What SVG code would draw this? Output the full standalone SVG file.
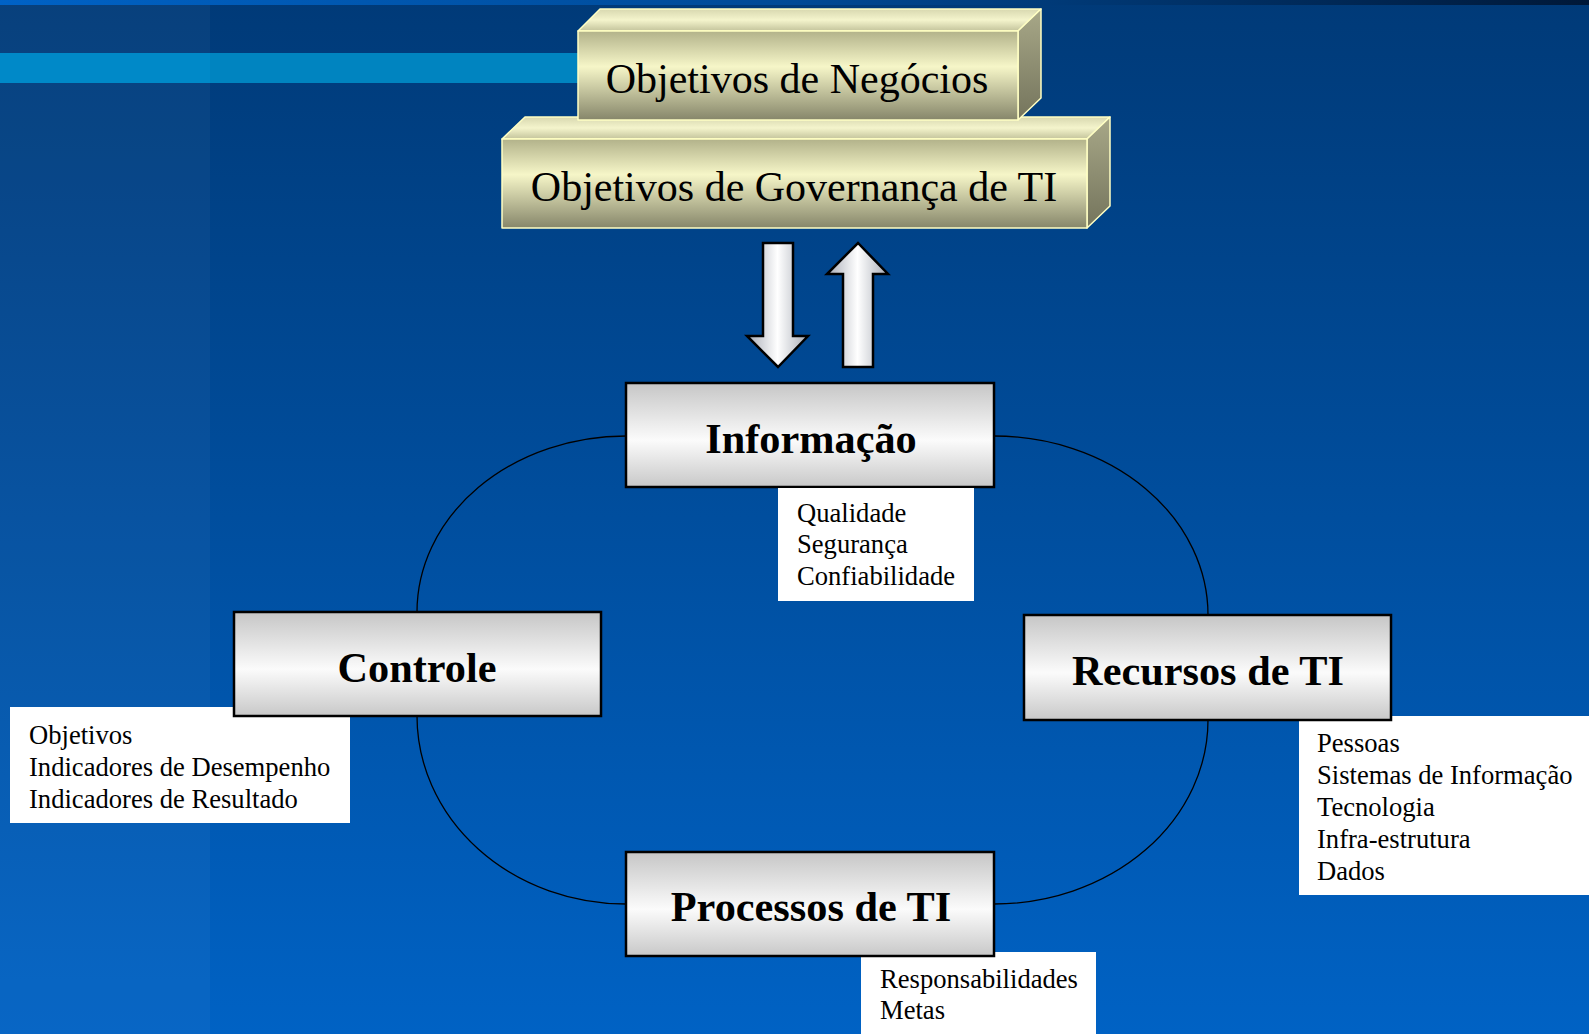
<svg xmlns="http://www.w3.org/2000/svg" width="1589" height="1034" viewBox="0 0 1589 1034">
<defs>
<linearGradient id="bg" x1="0" y1="0" x2="0" y2="1">
<stop offset="0" stop-color="#003a78"/>
<stop offset="0.5" stop-color="#004e9e"/>
<stop offset="1" stop-color="#0062c4"/>
</linearGradient>
<linearGradient id="topstrip" x1="0" y1="0" x2="1" y2="0">
<stop offset="0" stop-color="#0062c6"/>
<stop offset="0.5" stop-color="#004a96"/>
<stop offset="1" stop-color="#001838"/>
</linearGradient>
<linearGradient id="gray" x1="0" y1="0" x2="0" y2="1">
<stop offset="0" stop-color="#c6c6c6"/>
<stop offset="0.55" stop-color="#fbfbfb"/>
<stop offset="1" stop-color="#c8c8c8"/>
</linearGradient>
<linearGradient id="front" x1="0" y1="0" x2="0" y2="1">
<stop offset="0" stop-color="#b2b28a"/>
<stop offset="0.4" stop-color="#f6f6c8"/>
<stop offset="1" stop-color="#86866a"/>
</linearGradient>
<linearGradient id="topf" x1="0" y1="0" x2="0" y2="1">
<stop offset="0" stop-color="#d8d8b0"/>
<stop offset="0.5" stop-color="#f4f4cc"/>
<stop offset="1" stop-color="#c4c49c"/>
</linearGradient>
<linearGradient id="side" x1="0" y1="0" x2="0" y2="1">
<stop offset="0" stop-color="#a8a888"/>
<stop offset="1" stop-color="#74745c"/>
</linearGradient>
<linearGradient id="arrowg" x1="0" y1="0" x2="1" y2="0">
<stop offset="0" stop-color="#a8acb6"/>
<stop offset="0.5" stop-color="#ffffff"/>
<stop offset="1" stop-color="#a8acb6"/>
</linearGradient>
</defs>
<style>
.box3d{stroke:#ffffc4;stroke-width:1.5;stroke-linejoin:round}
.gbox{fill:url(#gray);stroke:#000;stroke-width:2.5}
.title{font-family:"Liberation Serif","Times New Roman",serif;font-size:42px;fill:#000;text-anchor:middle}
.label{font-family:"Liberation Serif","Times New Roman",serif;font-size:42.3px;font-weight:bold;fill:#000;text-anchor:middle}
.note{fill:#fff}
.notetext{font-family:"Liberation Serif","Times New Roman",serif;font-size:26.6px;fill:#000}
.conn{fill:none;stroke:#000;stroke-width:1.3}
.arrow{fill:url(#arrowg);stroke:#000;stroke-width:2.5;stroke-linejoin:miter}
</style>
<!-- background -->
<rect x="0" y="0" width="1589" height="1034" fill="url(#bg)"/>
<rect x="0" y="0" width="210" height="1034" fill="#ffffff" opacity="0.03"/>
<rect x="0" y="0" width="1589" height="5" fill="url(#topstrip)"/>
<rect x="0" y="53" width="210" height="30" fill="#0089c8"/>
<rect x="210" y="53" width="370" height="30" fill="#0084c0"/>

<!-- connectors -->
<g id="connectors">
<path class="conn" d="M626,436 A209,176 0 0 0 417,612"/>
<path class="conn" d="M417,716 A209,188 0 0 0 626,904"/>
<path class="conn" d="M994,904 A214,184 0 0 0 1208,720"/>
<path class="conn" d="M1208,615 A214,179 0 0 0 994,436"/>
<path class="arrow" d="M763,243 L793,243 L793,336 L808,336 L778,367 L747,336 L763,336 Z"/>
<path class="arrow" d="M843,367 L873,367 L873,274 L888,274 L858,243 L827,274 L843,274 Z"/>
</g>

<!-- Objetivos de Governança de TI -->
<g id="node-governanca">
<polygon class="box3d" fill="url(#topf)" points="502,139 525,117 1110,117 1087,139"/>
<polygon class="box3d" fill="url(#side)" points="1087,139 1110,117 1110,206 1087,228"/>
<rect class="box3d" fill="url(#front)" x="502" y="139" width="585" height="89"/>
<text class="title" x="794" y="201">Objetivos de Governança de TI</text>
</g>

<!-- Objetivos de Negócios -->
<g id="node-negocios">
<polygon class="box3d" fill="url(#topf)" points="578,31 600,9 1041,9 1018,31"/>
<polygon class="box3d" fill="url(#side)" points="1018,31 1041,9 1041,98 1018,120"/>
<rect class="box3d" fill="url(#front)" x="578" y="31" width="440" height="89"/>
<text class="title" x="797" y="93">Objetivos de Negócios</text>
</g>

<!-- Informação -->
<g id="node-informacao">
<rect class="gbox" x="626" y="383" width="368" height="104"/>
<text class="label" x="811" y="453">Informação</text>
</g>
<g id="note-informacao">
<rect class="note" x="778" y="488" width="196" height="113"/>
<text class="notetext" x="797" y="522">Qualidade</text>
<text class="notetext" x="797" y="553">Segurança</text>
<text class="notetext" x="797" y="585">Confiabilidade</text>
</g>

<!-- Controle -->
<g id="note-controle">
<rect class="note" x="10" y="707" width="340" height="116"/>
<text class="notetext" x="29" y="744">Objetivos</text>
<text class="notetext" x="29" y="776">Indicadores de Desempenho</text>
<text class="notetext" x="29" y="808">Indicadores de Resultado</text>
</g>
<g id="node-controle">
<rect class="gbox" x="234" y="612" width="367" height="104"/>
<text class="label" x="417" y="682">Controle</text>
</g>

<!-- Recursos de TI -->
<g id="note-recursos">
<rect class="note" x="1299" y="716" width="290" height="179"/>
<text class="notetext" x="1317" y="752">Pessoas</text>
<text class="notetext" x="1317" y="784">Sistemas de Informação</text>
<text class="notetext" x="1317" y="816">Tecnologia</text>
<text class="notetext" x="1317" y="848">Infra-estrutura</text>
<text class="notetext" x="1317" y="880">Dados</text>
</g>
<g id="node-recursos">
<rect class="gbox" x="1024" y="615" width="367" height="105"/>
<text class="label" x="1208" y="685">Recursos de TI</text>
</g>

<!-- Processos de TI -->
<g id="note-processos">
<rect class="note" x="861" y="952" width="235" height="82"/>
<text class="notetext" x="880" y="988">Responsabilidades</text>
<text class="notetext" x="880" y="1019">Metas</text>
</g>
<g id="node-processos">
<rect class="gbox" x="626" y="852" width="368" height="104"/>
<text class="label" x="811" y="921">Processos de TI</text>
</g>
</svg>
